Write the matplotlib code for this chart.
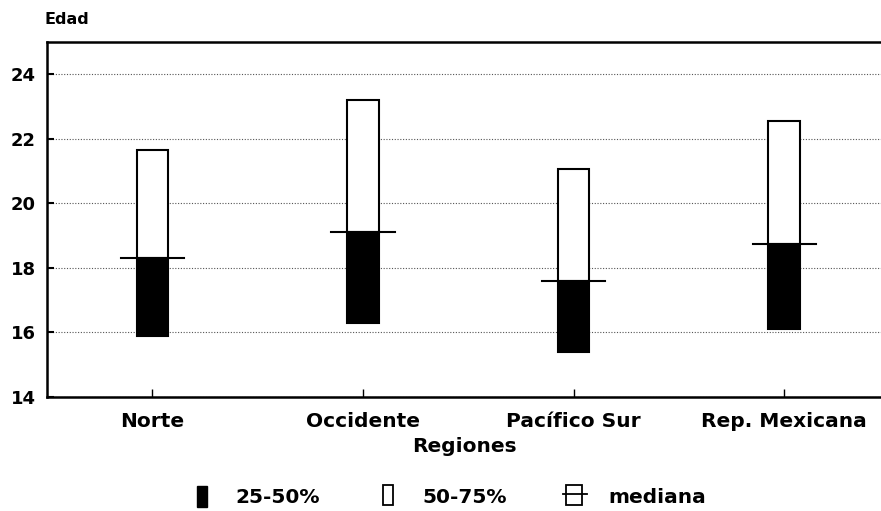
import matplotlib
matplotlib.use("Agg")
import matplotlib.pyplot as plt
from matplotlib.patches import Rectangle
from matplotlib.lines import Line2D

regions = ["Norte", "Occidente", "Pacífico Sur", "Rep. Mexicana"]
q25 = [15.9, 16.3, 15.4, 16.1]
median = [18.3, 19.1, 17.6, 18.75]
q75 = [21.65, 23.2, 21.05, 22.55]
yticks = [14, 16, 18, 20, 22, 24]
legend_labels = ["25-50%", "50-75%", "mediana"]

plt.rcParams['font.family'] = ['DejaVu Sans']
plt.rcParams['font.weight'] = 'bold'

W, H = 881, 511
fig = plt.figure(figsize=(W / 100, H / 100), dpi=100)
ax = fig.add_axes([47 / W, 1 - 397 / H, 1 - 47 / W, (397 - 42) / H])

x = list(range(len(regions)))
w = 0.15
lo = [m - a for m, a in zip(median, q25)]
hi = [b - m for b, m in zip(q75, median)]
ax.bar(x, lo, bottom=q25, width=w, color='black', edgecolor='black', linewidth=1.5, zorder=3)
ax.bar(x, hi, bottom=median, width=w, color='white', edgecolor='black', linewidth=1.5, zorder=3)
for xi, m in zip(x, median):
    ax.plot([xi - 0.15, xi + 0.15], [m, m], color='black', linewidth=1.5, zorder=4)

ax.set_xlim(-0.5, 3.46)
ax.set_ylim(14, 25)
ax.set_yticks(yticks)
ax.set_xticks(x)
ax.set_xticklabels(regions, fontsize=14.5, fontweight='bold')
ax.set_yticklabels([str(t) for t in yticks], fontsize=13, fontweight='bold')
ax.tick_params(axis='x', direction='in', length=6, width=1, pad=11)
ax.tick_params(axis='y', direction='in', length=5, width=1.5, pad=8)
ax.yaxis.grid(True, linestyle=(0, (1, 1.5)), color='#555555', linewidth=0.8, zorder=0)
ax.spines['right'].set_visible(False)
for s in ['left', 'bottom', 'top']:
    ax.spines[s].set_linewidth(1.8)

ax.set_xlabel("Regiones", fontsize=14.5, fontweight='bold', labelpad=4)
fig.text(44 / W, 1 - 19 / H, "Edad", fontsize=11.5, fontweight='bold', va='center', ha='left')

# legend (drawn manually in figure pixel coordinates)
def px(x0, y0):
    return (x0 / W, 1 - y0 / H)

tf = fig.transFigure
fig.patches.append(Rectangle(px(197, 507), 10 / W, 21 / H, transform=tf,
                             facecolor='black', edgecolor='black'))
fig.patches.append(Rectangle(px(383, 505), 10 / W, 20 / H, transform=tf,
                             facecolor='white', edgecolor='black', linewidth=1.3))
fig.patches.append(Rectangle(px(566, 505), 16 / W, 20 / H, transform=tf,
                             facecolor='white', edgecolor='black', linewidth=1.3))
fig.lines.append(Line2D([563 / W, 587 / W], [1 - 494 / H, 1 - 494 / H], transform=tf,
                        color='black', linewidth=1.3))
for xt, lab in zip([235, 422, 608], legend_labels):
    fig.text(xt / W, 1 - 497 / H, lab, fontsize=14.5, fontweight='bold', va='center', ha='left')

fig.savefig("out.png", dpi=100)
